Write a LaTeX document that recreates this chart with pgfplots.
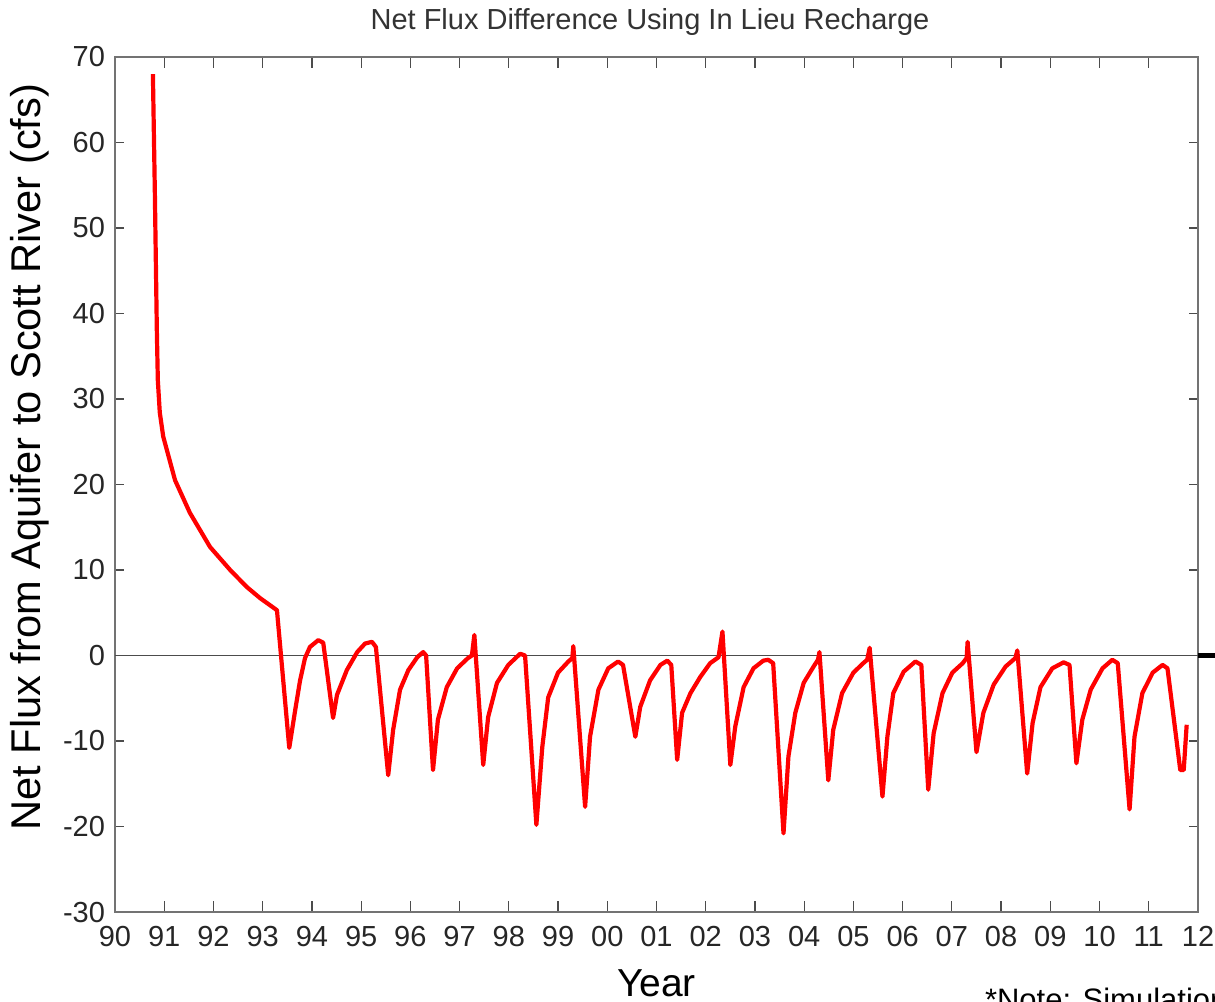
\documentclass[border=0pt]{standalone}
\usepackage{pgfplots}
\pgfplotsset{compat=1.18}
\usepackage{fontspec}
\setmainfont{Liberation Sans}
\setsansfont{Liberation Sans}
\begin{document}
\begin{tikzpicture}
\begin{axis}[
  scale only axis,
  width=541.5pt, height=427.5pt,
  xmin=90, xmax=112, ymin=-30, ymax=70,
  xtick={90,...,112},
  xticklabels={90,91,92,93,94,95,96,97,98,99,00,01,02,03,04,05,06,07,08,09,10,11,12},
  ytick={-30,-20,...,70},
  /pgf/number format/assume math mode=true,
  tick align=inside,
  x tick style={black!70, line width=0.6pt},
  y tick style={black!70, line width=0.6pt},
  xtick style={/pgfplots/major tick length=5.5pt},
  ytick style={/pgfplots/major tick length=4.5pt},
  axis line style={black!55, line width=0.8pt},
  ticklabel style={font=\fontsize{14.5}{16}\selectfont, text=black!85},
  xticklabel style={yshift=-3.5pt},
  yticklabel style={xshift=-1.5pt},
  title={Net Flux Difference Using In Lieu Recharge},
  title style={at={(axis description cs:0.494,1.027)}, anchor=center, font=\fontsize{14.5}{16}\selectfont, text=black!80},
  xlabel={Year},
  xlabel style={at={(axis description cs:0.5,-0.083)}, anchor=center, font=\fontsize{19.5}{21}\selectfont},
  ylabel={Net Flux from Aquifer to Scott River (cfs)},
  ylabel style={at={(axis description cs:-0.0785,0.532)}, anchor=center, font=\fontsize{20.8}{22}\selectfont},
  clip=false,
]
\coordinate (SW) at (rel axis cs:0,0);
\coordinate (NE) at (rel axis cs:1,1);
\addplot[black!70, line width=0.7pt, forget plot] coordinates {(90,0) (112,0)};
\addplot[red, line width=2.1pt, line join=round] coordinates {
(90.77,68.0) (90.81,54) (90.85,38) (90.87,32.2) (90.91,28.4) (90.98,25.6)
(91.22,20.5) (91.52,16.7) (91.93,12.7) (92.34,10.0) (92.68,8.0) (92.95,6.7) (93.29,5.3)
(93.54,-10.8) (93.66,-6.4) (93.76,-2.9) (93.86,-0.3) (93.96,1.0) (94.13,1.8) (94.23,1.5)
(94.43,-7.3) (94.51,-4.6) (94.71,-1.7) (94.92,0.4) (95.08,1.4) (95.22,1.6) (95.30,1.0)
(95.55,-14.0) (95.65,-8.7) (95.79,-4.0) (95.96,-1.7) (96.14,-0.2) (96.26,0.4) (96.32,0.0)
(96.46,-13.4) (96.56,-7.5) (96.74,-3.7) (96.95,-1.5) (97.17,-0.3) (97.25,0.0) (97.30,2.4)
(97.48,-12.8) (97.58,-7.2) (97.76,-3.2) (97.99,-1.1) (98.23,0.2) (98.33,0.0)
(98.56,-19.8) (98.68,-10.7) (98.80,-4.9) (99.00,-2.0) (99.21,-0.7) (99.29,-0.3) (99.31,1.1)
(99.55,-17.7) (99.65,-9.5) (99.82,-4.0) (100.02,-1.5) (100.22,-0.7) (100.32,-1.1)
(100.57,-9.5) (100.67,-6.0) (100.87,-2.9) (101.08,-1.1) (101.22,-0.6) (101.30,-1.1)
(101.42,-12.2) (101.52,-6.7) (101.69,-4.4) (101.89,-2.5) (102.09,-0.9) (102.26,-0.2) (102.34,2.8)
(102.50,-12.8) (102.60,-8.3) (102.77,-3.7) (102.97,-1.5) (103.17,-0.6) (103.27,-0.5) (103.37,-0.9)
(103.58,-20.8) (103.68,-11.8) (103.82,-6.7) (103.99,-3.2) (104.19,-1.3) (104.28,-0.5) (104.31,0.4)
(104.49,-14.6) (104.59,-8.7) (104.77,-4.4) (105.00,-2.0) (105.20,-0.9) (105.28,-0.5) (105.33,0.9)
(105.59,-16.5) (105.69,-9.5) (105.81,-4.4) (106.02,-1.9) (106.26,-0.7) (106.38,-1.1)
(106.52,-15.7) (106.63,-9.1) (106.81,-4.4) (107.01,-2.0) (107.22,-0.9) (107.30,-0.3) (107.32,1.6)
(107.50,-11.3) (107.64,-6.7) (107.85,-3.4) (108.09,-1.3) (108.29,-0.3) (108.33,0.6)
(108.53,-13.8) (108.64,-7.9) (108.80,-3.7) (109.04,-1.5) (109.27,-0.8) (109.39,-1.1)
(109.53,-12.6) (109.65,-7.5) (109.82,-4.0) (110.06,-1.5) (110.26,-0.5) (110.37,-0.9)
(110.61,-18.0) (110.71,-9.5) (110.87,-4.4) (111.08,-2.0) (111.28,-1.1) (111.38,-1.5)
(111.64,-13.4) (111.71,-13.4) (111.77,-8.1)
};
\draw[black, line width=2.5pt] (axis cs:112,0) -- ([xshift=14pt]axis cs:112,0);
\node[anchor=north west, inner sep=0pt, font=\fontsize{15.5}{17}\selectfont] at (axis description cs:0.803,-0.0889) {*Note: Simulation};
\end{axis}
\pgfresetboundingbox
\path[use as bounding box] ([shift={(-57.5pt,-44.5pt)}]SW) rectangle ([shift={(8.5pt,28.5pt)}]NE);
\end{tikzpicture}
\end{document}
